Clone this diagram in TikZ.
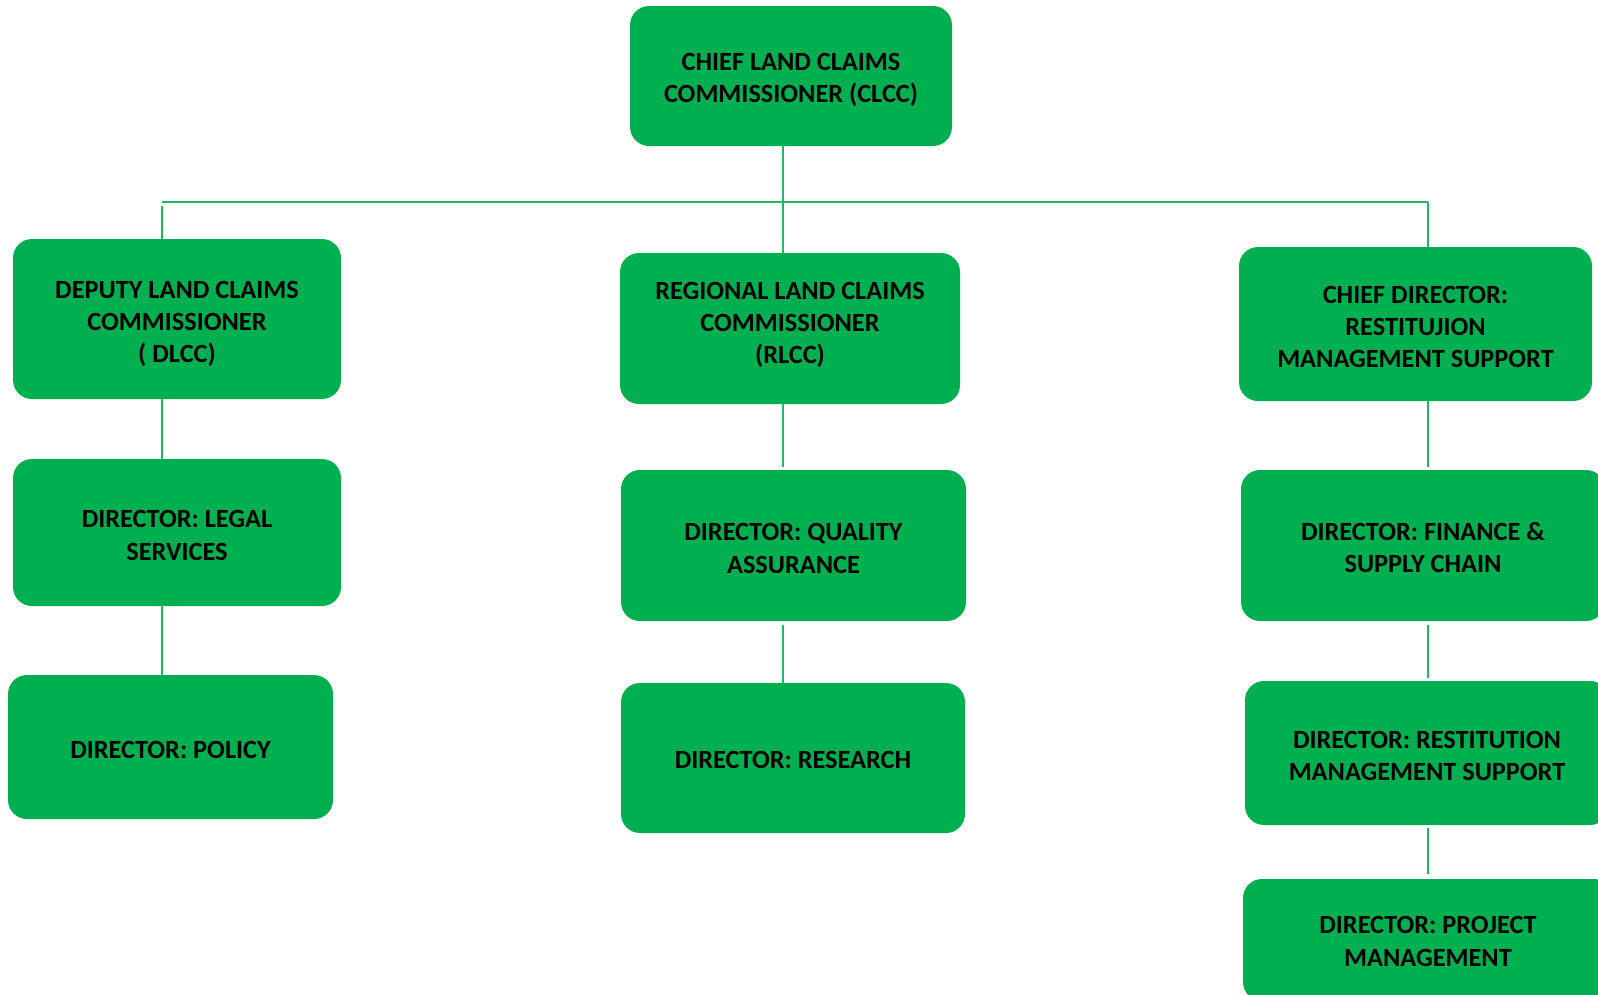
\documentclass[tikz,border=0pt]{standalone}
\usepackage{fontspec}
\setmainfont{Carlito}
\definecolor{boxgreen}{HTML}{00B050}
\definecolor{linegreen}{HTML}{1DBA5E}
\begin{document}
\begin{tikzpicture}[x=1pt,y=-1pt,
  box/.style={draw=none,fill=boxgreen,rounded corners=19pt,inner sep=0pt},
  txt/.style={inner sep=0pt,align=center,text=black,font=\fontsize{26.3}{32.3}\selectfont\bfseries},
  conn/.style={draw=linegreen,line width=1.3pt}]
\useasboundingbox (0,0) rectangle (1598,994);
\clip (0,0) rectangle (1598,994);
\fill[white] (0,0) rectangle (1598,994);
% boxes
\node[box,minimum width=322pt,minimum height=140pt] (clcc) at (791,76) {};
\node[box,minimum width=328pt,minimum height=160pt] (dlcc) at (177,319) {};
\node[box,minimum width=340pt,minimum height=151pt] (rlcc) at (790,328.5) {};
\node[box,minimum width=353pt,minimum height=154pt] (cdr) at (1415.5,324) {};
\node[box,minimum width=328pt,minimum height=147pt] (legal) at (177,532.5) {};
\node[box,minimum width=325pt,minimum height=144pt] (policy) at (170.5,747) {};
\node[box,minimum width=345pt,minimum height=151pt] (qa) at (793.5,545.5) {};
\node[box,minimum width=344pt,minimum height=150pt] (research) at (793,758) {};
\node[box,minimum width=364pt,minimum height=151pt] (finance) at (1423,545.5) {};
\node[box,minimum width=364pt,minimum height=144pt] (rms) at (1427,753) {};
\node[box,minimum width=370pt,minimum height=122pt] (project) at (1428,940) {};
% texts
\node[txt,yshift=-4pt] (clcc-t) at (clcc) {CHIEF LAND CLAIMS\\COMMISSIONER (CLCC)};
\node[txt,yshift=-5pt] (dlcc-t) at (dlcc) {DEPUTY LAND CLAIMS\\COMMISSIONER\\( DLCC)};
\node[txt,yshift=3.5pt] (rlcc-t) at (rlcc) {REGIONAL LAND CLAIMS\\COMMISSIONER\\(RLCC)};
\node[txt,yshift=-3pt] (cdr-t) at (cdr) {CHIEF DIRECTOR:\\RESTITUJION\\MANAGEMENT SUPPORT};
\node[txt,yshift=-3pt] (legal-t) at (legal) {DIRECTOR: LEGAL\\SERVICES};
\node[txt,yshift=-2.5pt] (policy-t) at (policy) {DIRECTOR: POLICY};
\node[txt,yshift=-3pt] (qa-t) at (qa) {DIRECTOR: QUALITY\\ASSURANCE};
\node[txt,yshift=-1.5pt] (research-t) at (research) {DIRECTOR: RESEARCH};
\node[txt,yshift=-2pt] (finance-t) at (finance) {DIRECTOR: FINANCE \&\\SUPPLY CHAIN};
\node[txt,yshift=-3pt] (rms-t) at (rms) {DIRECTOR: RESTITUTION\\MANAGEMENT SUPPORT};
\node[txt,yshift=-1.5pt] (project-t) at (project) {DIRECTOR: PROJECT\\MANAGEMENT};
% connector columns
\coordinate (L) at (162,202);
\coordinate (M) at (783,202);
\coordinate (R) at (1428,202);
\coordinate (Lstart) at (162,206);
% connectors
\draw[conn] (L) -- (R);
\draw[conn] (clcc.south -| M) -- (rlcc.north -| M);
\draw[conn] (Lstart) -- (dlcc.north -| L);
\draw[conn] (R) -- (cdr.north -| R);
\draw[conn] (dlcc.south -| L) -- (legal.north -| L);
\draw[conn] (legal.south -| L) -- (policy.north -| L);
\draw[conn,shorten >=3pt] (rlcc.south -| M) -- (qa.north -| M);
\draw[conn,shorten <=4pt] (qa.south -| M) -- (research.north -| M);
\draw[conn,shorten >=3pt] (cdr.south -| R) -- (finance.north -| R);
\draw[conn,shorten <=4pt,shorten >=3pt] (finance.south -| R) -- (rms.north -| R);
\draw[conn,shorten <=3pt,shorten >=5pt] (rms.south -| R) -- (project.north -| R);
\end{tikzpicture}
\end{document}
